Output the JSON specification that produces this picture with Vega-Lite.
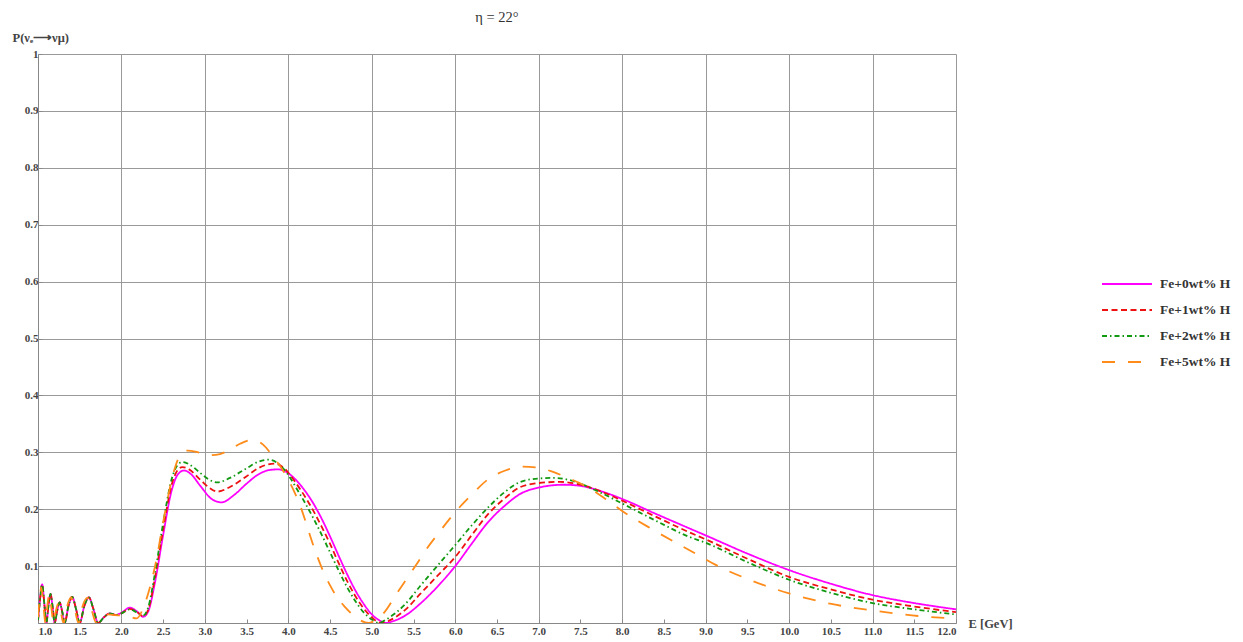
{
  "$schema": "https://vega.github.io/schema/vega-lite/v6.json",
  "width": 918,
  "height": 569,
  "autosize": "none",
  "padding": {"left": 38, "top": 54, "right": 287, "bottom": 19},
  "background": "white",
  "config": {"view": {"stroke": null}, "font": "Liberation Serif"},
  "title": {"text": "η = 22°", "fontSize": 14.5, "font": "Liberation Serif", "fontWeight": "normal", "color": "#333", "anchor": "middle", "frame": "group", "offset": 6},
  "data": {"values": [
    {"s":"Fe+0wt% H","E":1.00,"P":0.005},{"s":"Fe+0wt% H","E":1.02,"P":0.035},{"s":"Fe+0wt% H","E":1.05,"P":0.068},{"s":"Fe+0wt% H","E":1.075,"P":0.035},{"s":"Fe+0wt% H","E":1.10,"P":0.0},{"s":"Fe+0wt% H","E":1.125,"P":0.03},{"s":"Fe+0wt% H","E":1.15,"P":0.051},{"s":"Fe+0wt% H","E":1.175,"P":0.028},{"s":"Fe+0wt% H","E":1.20,"P":0.0},{"s":"Fe+0wt% H","E":1.23,"P":0.022},{"s":"Fe+0wt% H","E":1.26,"P":0.036},{"s":"Fe+0wt% H","E":1.29,"P":0.02},{"s":"Fe+0wt% H","E":1.32,"P":0.0},{"s":"Fe+0wt% H","E":1.365,"P":0.03},{"s":"Fe+0wt% H","E":1.41,"P":0.046},{"s":"Fe+0wt% H","E":1.455,"P":0.025},{"s":"Fe+0wt% H","E":1.50,"P":0.0},{"s":"Fe+0wt% H","E":1.555,"P":0.03},{"s":"Fe+0wt% H","E":1.61,"P":0.045},{"s":"Fe+0wt% H","E":1.665,"P":0.024},{"s":"Fe+0wt% H","E":1.72,"P":0.0},{"s":"Fe+0wt% H","E":1.79,"P":0.01},{"s":"Fe+0wt% H","E":1.86,"P":0.017},{"s":"Fe+0wt% H","E":1.93,"P":0.014},{"s":"Fe+0wt% H","E":2.00,"P":0.018},{"s":"Fe+0wt% H","E":2.10,"P":0.027},{"s":"Fe+0wt% H","E":2.18,"P":0.021},{"s":"Fe+0wt% H","E":2.26,"P":0.011},{"s":"Fe+0wt% H","E":2.32,"P":0.02},{"s":"Fe+0wt% H","E":2.40,"P":0.07},{"s":"Fe+0wt% H","E":2.50,"P":0.155},{"s":"Fe+0wt% H","E":2.60,"P":0.232},{"s":"Fe+0wt% H","E":2.68,"P":0.262},{"s":"Fe+0wt% H","E":2.75,"P":0.268},{"s":"Fe+0wt% H","E":2.83,"P":0.262},{"s":"Fe+0wt% H","E":2.95,"P":0.240},{"s":"Fe+0wt% H","E":3.08,"P":0.218},{"s":"Fe+0wt% H","E":3.20,"P":0.212},{"s":"Fe+0wt% H","E":3.35,"P":0.225},{"s":"Fe+0wt% H","E":3.50,"P":0.245},{"s":"Fe+0wt% H","E":3.65,"P":0.262},{"s":"Fe+0wt% H","E":3.78,"P":0.269},{"s":"Fe+0wt% H","E":3.88,"P":0.270},{"s":"Fe+0wt% H","E":4.00,"P":0.263},{"s":"Fe+0wt% H","E":4.10,"P":0.250},{"s":"Fe+0wt% H","E":4.20,"P":0.232},{"s":"Fe+0wt% H","E":4.30,"P":0.210},{"s":"Fe+0wt% H","E":4.40,"P":0.183},{"s":"Fe+0wt% H","E":4.50,"P":0.152},{"s":"Fe+0wt% H","E":4.60,"P":0.119},{"s":"Fe+0wt% H","E":4.70,"P":0.087},{"s":"Fe+0wt% H","E":4.80,"P":0.058},{"s":"Fe+0wt% H","E":4.90,"P":0.034},{"s":"Fe+0wt% H","E":5.00,"P":0.015},{"s":"Fe+0wt% H","E":5.10,"P":0.004},{"s":"Fe+0wt% H","E":5.17,"P":0.0},{"s":"Fe+0wt% H","E":5.25,"P":0.003},{"s":"Fe+0wt% H","E":5.40,"P":0.013},{"s":"Fe+0wt% H","E":5.58,"P":0.034},{"s":"Fe+0wt% H","E":5.80,"P":0.066},{"s":"Fe+0wt% H","E":6.00,"P":0.100},{"s":"Fe+0wt% H","E":6.20,"P":0.140},{"s":"Fe+0wt% H","E":6.38,"P":0.175},{"s":"Fe+0wt% H","E":6.60,"P":0.207},{"s":"Fe+0wt% H","E":6.78,"P":0.227},{"s":"Fe+0wt% H","E":7.00,"P":0.238},{"s":"Fe+0wt% H","E":7.30,"P":0.243},{"s":"Fe+0wt% H","E":7.50,"P":0.241},{"s":"Fe+0wt% H","E":7.80,"P":0.229},{"s":"Fe+0wt% H","E":8.00,"P":0.218},{"s":"Fe+0wt% H","E":8.40,"P":0.192},{"s":"Fe+0wt% H","E":8.81,"P":0.166},{"s":"Fe+0wt% H","E":9.00,"P":0.154},{"s":"Fe+0wt% H","E":9.50,"P":0.122},{"s":"Fe+0wt% H","E":10.0,"P":0.093},{"s":"Fe+0wt% H","E":10.5,"P":0.069},{"s":"Fe+0wt% H","E":11.0,"P":0.049},{"s":"Fe+0wt% H","E":11.5,"P":0.035},{"s":"Fe+0wt% H","E":12.0,"P":0.024},

    {"s":"Fe+1wt% H","E":1.00,"P":0.005},{"s":"Fe+1wt% H","E":1.02,"P":0.035},{"s":"Fe+1wt% H","E":1.05,"P":0.068},{"s":"Fe+1wt% H","E":1.075,"P":0.035},{"s":"Fe+1wt% H","E":1.10,"P":0.0},{"s":"Fe+1wt% H","E":1.125,"P":0.03},{"s":"Fe+1wt% H","E":1.15,"P":0.051},{"s":"Fe+1wt% H","E":1.175,"P":0.028},{"s":"Fe+1wt% H","E":1.20,"P":0.0},{"s":"Fe+1wt% H","E":1.23,"P":0.022},{"s":"Fe+1wt% H","E":1.26,"P":0.036},{"s":"Fe+1wt% H","E":1.29,"P":0.02},{"s":"Fe+1wt% H","E":1.32,"P":0.0},{"s":"Fe+1wt% H","E":1.365,"P":0.03},{"s":"Fe+1wt% H","E":1.41,"P":0.046},{"s":"Fe+1wt% H","E":1.455,"P":0.025},{"s":"Fe+1wt% H","E":1.50,"P":0.0},{"s":"Fe+1wt% H","E":1.555,"P":0.03},{"s":"Fe+1wt% H","E":1.61,"P":0.045},{"s":"Fe+1wt% H","E":1.665,"P":0.024},{"s":"Fe+1wt% H","E":1.72,"P":0.0},{"s":"Fe+1wt% H","E":1.79,"P":0.01},{"s":"Fe+1wt% H","E":1.86,"P":0.017},{"s":"Fe+1wt% H","E":1.93,"P":0.014},{"s":"Fe+1wt% H","E":2.00,"P":0.017},{"s":"Fe+1wt% H","E":2.10,"P":0.025},{"s":"Fe+1wt% H","E":2.18,"P":0.02},{"s":"Fe+1wt% H","E":2.26,"P":0.012},{"s":"Fe+1wt% H","E":2.32,"P":0.023},{"s":"Fe+1wt% H","E":2.40,"P":0.078},{"s":"Fe+1wt% H","E":2.50,"P":0.165},{"s":"Fe+1wt% H","E":2.60,"P":0.242},{"s":"Fe+1wt% H","E":2.67,"P":0.268},{"s":"Fe+1wt% H","E":2.73,"P":0.274},{"s":"Fe+1wt% H","E":2.81,"P":0.270},{"s":"Fe+1wt% H","E":2.95,"P":0.251},{"s":"Fe+1wt% H","E":3.05,"P":0.238},{"s":"Fe+1wt% H","E":3.15,"P":0.231},{"s":"Fe+1wt% H","E":3.30,"P":0.239},{"s":"Fe+1wt% H","E":3.50,"P":0.258},{"s":"Fe+1wt% H","E":3.65,"P":0.273},{"s":"Fe+1wt% H","E":3.83,"P":0.280},{"s":"Fe+1wt% H","E":3.95,"P":0.272},{"s":"Fe+1wt% H","E":4.00,"P":0.264},{"s":"Fe+1wt% H","E":4.10,"P":0.244},{"s":"Fe+1wt% H","E":4.20,"P":0.222},{"s":"Fe+1wt% H","E":4.30,"P":0.197},{"s":"Fe+1wt% H","E":4.40,"P":0.169},{"s":"Fe+1wt% H","E":4.50,"P":0.139},{"s":"Fe+1wt% H","E":4.60,"P":0.106},{"s":"Fe+1wt% H","E":4.70,"P":0.075},{"s":"Fe+1wt% H","E":4.80,"P":0.048},{"s":"Fe+1wt% H","E":4.90,"P":0.026},{"s":"Fe+1wt% H","E":5.00,"P":0.010},{"s":"Fe+1wt% H","E":5.07,"P":0.002},{"s":"Fe+1wt% H","E":5.13,"P":0.0},{"s":"Fe+1wt% H","E":5.22,"P":0.005},{"s":"Fe+1wt% H","E":5.40,"P":0.023},{"s":"Fe+1wt% H","E":5.58,"P":0.051},{"s":"Fe+1wt% H","E":5.80,"P":0.085},{"s":"Fe+1wt% H","E":6.00,"P":0.116},{"s":"Fe+1wt% H","E":6.20,"P":0.155},{"s":"Fe+1wt% H","E":6.38,"P":0.189},{"s":"Fe+1wt% H","E":6.60,"P":0.220},{"s":"Fe+1wt% H","E":6.78,"P":0.239},{"s":"Fe+1wt% H","E":7.00,"P":0.246},{"s":"Fe+1wt% H","E":7.26,"P":0.248},{"s":"Fe+1wt% H","E":7.50,"P":0.243},{"s":"Fe+1wt% H","E":7.80,"P":0.228},{"s":"Fe+1wt% H","E":8.00,"P":0.215},{"s":"Fe+1wt% H","E":8.40,"P":0.187},{"s":"Fe+1wt% H","E":8.81,"P":0.159},{"s":"Fe+1wt% H","E":9.00,"P":0.147},{"s":"Fe+1wt% H","E":9.50,"P":0.113},{"s":"Fe+1wt% H","E":10.0,"P":0.081},{"s":"Fe+1wt% H","E":10.5,"P":0.059},{"s":"Fe+1wt% H","E":11.0,"P":0.041},{"s":"Fe+1wt% H","E":11.5,"P":0.029},{"s":"Fe+1wt% H","E":12.0,"P":0.019},

    {"s":"Fe+2wt% H","E":1.00,"P":0.005},{"s":"Fe+2wt% H","E":1.02,"P":0.035},{"s":"Fe+2wt% H","E":1.05,"P":0.067},{"s":"Fe+2wt% H","E":1.075,"P":0.035},{"s":"Fe+2wt% H","E":1.10,"P":0.0},{"s":"Fe+2wt% H","E":1.125,"P":0.03},{"s":"Fe+2wt% H","E":1.15,"P":0.051},{"s":"Fe+2wt% H","E":1.175,"P":0.028},{"s":"Fe+2wt% H","E":1.20,"P":0.0},{"s":"Fe+2wt% H","E":1.23,"P":0.022},{"s":"Fe+2wt% H","E":1.26,"P":0.036},{"s":"Fe+2wt% H","E":1.29,"P":0.02},{"s":"Fe+2wt% H","E":1.32,"P":0.0},{"s":"Fe+2wt% H","E":1.365,"P":0.03},{"s":"Fe+2wt% H","E":1.41,"P":0.046},{"s":"Fe+2wt% H","E":1.455,"P":0.025},{"s":"Fe+2wt% H","E":1.50,"P":0.0},{"s":"Fe+2wt% H","E":1.555,"P":0.03},{"s":"Fe+2wt% H","E":1.61,"P":0.045},{"s":"Fe+2wt% H","E":1.665,"P":0.024},{"s":"Fe+2wt% H","E":1.72,"P":0.0},{"s":"Fe+2wt% H","E":1.79,"P":0.01},{"s":"Fe+2wt% H","E":1.86,"P":0.017},{"s":"Fe+2wt% H","E":1.93,"P":0.014},{"s":"Fe+2wt% H","E":2.00,"P":0.017},{"s":"Fe+2wt% H","E":2.10,"P":0.024},{"s":"Fe+2wt% H","E":2.18,"P":0.019},{"s":"Fe+2wt% H","E":2.26,"P":0.013},{"s":"Fe+2wt% H","E":2.32,"P":0.027},{"s":"Fe+2wt% H","E":2.40,"P":0.086},{"s":"Fe+2wt% H","E":2.50,"P":0.176},{"s":"Fe+2wt% H","E":2.60,"P":0.252},{"s":"Fe+2wt% H","E":2.67,"P":0.277},{"s":"Fe+2wt% H","E":2.73,"P":0.283},{"s":"Fe+2wt% H","E":2.81,"P":0.279},{"s":"Fe+2wt% H","E":2.95,"P":0.263},{"s":"Fe+2wt% H","E":3.05,"P":0.252},{"s":"Fe+2wt% H","E":3.15,"P":0.247},{"s":"Fe+2wt% H","E":3.30,"P":0.255},{"s":"Fe+2wt% H","E":3.50,"P":0.272},{"s":"Fe+2wt% H","E":3.65,"P":0.284},{"s":"Fe+2wt% H","E":3.76,"P":0.287},{"s":"Fe+2wt% H","E":3.88,"P":0.280},{"s":"Fe+2wt% H","E":4.00,"P":0.260},{"s":"Fe+2wt% H","E":4.10,"P":0.236},{"s":"Fe+2wt% H","E":4.20,"P":0.211},{"s":"Fe+2wt% H","E":4.30,"P":0.184},{"s":"Fe+2wt% H","E":4.40,"P":0.155},{"s":"Fe+2wt% H","E":4.50,"P":0.124},{"s":"Fe+2wt% H","E":4.60,"P":0.093},{"s":"Fe+2wt% H","E":4.70,"P":0.064},{"s":"Fe+2wt% H","E":4.80,"P":0.039},{"s":"Fe+2wt% H","E":4.90,"P":0.019},{"s":"Fe+2wt% H","E":5.00,"P":0.006},{"s":"Fe+2wt% H","E":5.08,"P":0.0},{"s":"Fe+2wt% H","E":5.18,"P":0.007},{"s":"Fe+2wt% H","E":5.40,"P":0.033},{"s":"Fe+2wt% H","E":5.58,"P":0.065},{"s":"Fe+2wt% H","E":5.80,"P":0.103},{"s":"Fe+2wt% H","E":6.00,"P":0.137},{"s":"Fe+2wt% H","E":6.20,"P":0.172},{"s":"Fe+2wt% H","E":6.38,"P":0.201},{"s":"Fe+2wt% H","E":6.60,"P":0.231},{"s":"Fe+2wt% H","E":6.78,"P":0.248},{"s":"Fe+2wt% H","E":7.00,"P":0.254},{"s":"Fe+2wt% H","E":7.18,"P":0.255},{"s":"Fe+2wt% H","E":7.40,"P":0.250},{"s":"Fe+2wt% H","E":7.70,"P":0.232},{"s":"Fe+2wt% H","E":8.00,"P":0.210},{"s":"Fe+2wt% H","E":8.40,"P":0.180},{"s":"Fe+2wt% H","E":8.81,"P":0.151},{"s":"Fe+2wt% H","E":9.00,"P":0.141},{"s":"Fe+2wt% H","E":9.50,"P":0.107},{"s":"Fe+2wt% H","E":10.0,"P":0.076},{"s":"Fe+2wt% H","E":10.5,"P":0.053},{"s":"Fe+2wt% H","E":11.0,"P":0.035},{"s":"Fe+2wt% H","E":11.5,"P":0.024},{"s":"Fe+2wt% H","E":12.0,"P":0.015},

    {"s":"Fe+5wt% H","E":1.00,"P":0.01},{"s":"Fe+5wt% H","E":1.02,"P":0.045},{"s":"Fe+5wt% H","E":1.04,"P":0.062},{"s":"Fe+5wt% H","E":1.065,"P":0.03},{"s":"Fe+5wt% H","E":1.09,"P":0.0},{"s":"Fe+5wt% H","E":1.11,"P":0.028},{"s":"Fe+5wt% H","E":1.135,"P":0.05},{"s":"Fe+5wt% H","E":1.16,"P":0.027},{"s":"Fe+5wt% H","E":1.185,"P":0.0},{"s":"Fe+5wt% H","E":1.215,"P":0.022},{"s":"Fe+5wt% H","E":1.245,"P":0.035},{"s":"Fe+5wt% H","E":1.275,"P":0.018},{"s":"Fe+5wt% H","E":1.305,"P":0.0},{"s":"Fe+5wt% H","E":1.35,"P":0.03},{"s":"Fe+5wt% H","E":1.395,"P":0.045},{"s":"Fe+5wt% H","E":1.44,"P":0.024},{"s":"Fe+5wt% H","E":1.485,"P":0.0},{"s":"Fe+5wt% H","E":1.535,"P":0.03},{"s":"Fe+5wt% H","E":1.59,"P":0.044},{"s":"Fe+5wt% H","E":1.64,"P":0.024},{"s":"Fe+5wt% H","E":1.70,"P":0.0},{"s":"Fe+5wt% H","E":1.77,"P":0.009},{"s":"Fe+5wt% H","E":1.84,"P":0.015},{"s":"Fe+5wt% H","E":1.92,"P":0.014},{"s":"Fe+5wt% H","E":2.00,"P":0.013},{"s":"Fe+5wt% H","E":2.08,"P":0.012},{"s":"Fe+5wt% H","E":2.18,"P":0.008},{"s":"Fe+5wt% H","E":2.28,"P":0.034},{"s":"Fe+5wt% H","E":2.40,"P":0.098},{"s":"Fe+5wt% H","E":2.52,"P":0.193},{"s":"Fe+5wt% H","E":2.62,"P":0.262},{"s":"Fe+5wt% H","E":2.70,"P":0.294},{"s":"Fe+5wt% H","E":2.79,"P":0.303},{"s":"Fe+5wt% H","E":2.92,"P":0.300},{"s":"Fe+5wt% H","E":3.05,"P":0.295},{"s":"Fe+5wt% H","E":3.18,"P":0.297},{"s":"Fe+5wt% H","E":3.30,"P":0.305},{"s":"Fe+5wt% H","E":3.42,"P":0.315},{"s":"Fe+5wt% H","E":3.55,"P":0.321},{"s":"Fe+5wt% H","E":3.62,"P":0.320},{"s":"Fe+5wt% H","E":3.70,"P":0.313},{"s":"Fe+5wt% H","E":3.82,"P":0.292},{"s":"Fe+5wt% H","E":3.90,"P":0.276},{"s":"Fe+5wt% H","E":3.98,"P":0.257},{"s":"Fe+5wt% H","E":4.08,"P":0.228},{"s":"Fe+5wt% H","E":4.15,"P":0.203},{"s":"Fe+5wt% H","E":4.22,"P":0.172},{"s":"Fe+5wt% H","E":4.30,"P":0.136},{"s":"Fe+5wt% H","E":4.40,"P":0.097},{"s":"Fe+5wt% H","E":4.50,"P":0.066},{"s":"Fe+5wt% H","E":4.58,"P":0.046},{"s":"Fe+5wt% H","E":4.68,"P":0.028},{"s":"Fe+5wt% H","E":4.76,"P":0.016},{"s":"Fe+5wt% H","E":4.86,"P":0.005},{"s":"Fe+5wt% H","E":4.96,"P":0.0},{"s":"Fe+5wt% H","E":5.05,"P":0.006},{"s":"Fe+5wt% H","E":5.14,"P":0.017},{"s":"Fe+5wt% H","E":5.30,"P":0.052},{"s":"Fe+5wt% H","E":5.42,"P":0.078},{"s":"Fe+5wt% H","E":5.54,"P":0.104},{"s":"Fe+5wt% H","E":5.66,"P":0.131},{"s":"Fe+5wt% H","E":5.80,"P":0.158},{"s":"Fe+5wt% H","E":6.00,"P":0.195},{"s":"Fe+5wt% H","E":6.20,"P":0.226},{"s":"Fe+5wt% H","E":6.38,"P":0.251},{"s":"Fe+5wt% H","E":6.60,"P":0.268},{"s":"Fe+5wt% H","E":6.80,"P":0.275},{"s":"Fe+5wt% H","E":7.00,"P":0.273},{"s":"Fe+5wt% H","E":7.18,"P":0.265},{"s":"Fe+5wt% H","E":7.38,"P":0.253},{"s":"Fe+5wt% H","E":7.58,"P":0.239},{"s":"Fe+5wt% H","E":7.80,"P":0.218},{"s":"Fe+5wt% H","E":8.00,"P":0.197},{"s":"Fe+5wt% H","E":8.38,"P":0.163},{"s":"Fe+5wt% H","E":8.94,"P":0.117},{"s":"Fe+5wt% H","E":9.11,"P":0.103},{"s":"Fe+5wt% H","E":9.49,"P":0.078},{"s":"Fe+5wt% H","E":10.0,"P":0.052},{"s":"Fe+5wt% H","E":10.49,"P":0.034},{"s":"Fe+5wt% H","E":11.0,"P":0.022},{"s":"Fe+5wt% H","E":11.57,"P":0.012},{"s":"Fe+5wt% H","E":12.0,"P":0.008}
  ]},
  "mark": {"type": "line", "strokeWidth": 1.8, "interpolate": "monotone", "clip": true},
  "encoding": {
    "x": {"field": "E", "type": "quantitative",
      "scale": {"domain": [1, 12], "nice": false, "zero": false},
      "axis": {"values": [1,1.5,2,2.5,3,3.5,4,4.5,5,5.5,6,6.5,7,7.5,8,8.5,9,9.5,10,10.5,11,11.5,12],
        "format": ".1f", "grid": true, "gridColor": "#999", "gridWidth": 1,
        "gridOpacity": {"condition": {"test": "datum.value % 1 !== 0", "value": 0}, "value": 1},
        "domainColor": "#888", "tickColor": "#888", "tickSize": -4, "labelPadding": 6,
        "labelFont": "Liberation Serif", "labelFontSize": 11, "labelFontWeight": "bold", "labelColor": "#444",
        "title": "E [GeV]", "titleFont": "Liberation Serif", "titleFontSize": 12.5, "titleFontWeight": "bold", "titleColor": "#444",
        "titleX": 930, "titleY": 0, "titleAlign": "left", "titleBaseline": "middle", "titleAnchor": null}},
    "y": {"field": "P", "type": "quantitative",
      "scale": {"domain": [0, 1], "nice": false},
      "axis": {"values": [0.1,0.2,0.3,0.4,0.5,0.6,0.7,0.8,0.9,1.0],
        "labelExpr": "datum.value == 1 ? '1' : format(datum.value, '.1f')",
        "grid": true, "gridColor": "#999", "gridWidth": 1,
        "domainColor": "#888", "tickColor": "#888", "tickSize": -4, "labelPadding": 4,
        "labelFont": "Liberation Serif", "labelFontSize": 11, "labelFontWeight": "bold", "labelColor": "#444",
        "title": "P(νₑ⟶νμ)", "titleFont": "Liberation Serif", "titleFontSize": 12.5, "titleFontWeight": "bold", "titleColor": "#444",
        "titleAngle": 0, "titleX": -26, "titleY": -17, "titleAlign": "left", "titleBaseline": "middle"}},
    "color": {"field": "s", "type": "nominal",
      "scale": {"domain": ["Fe+0wt% H","Fe+1wt% H","Fe+2wt% H","Fe+5wt% H"], "range": ["#ff00ff","#ee1111","#119911","#ff8c1a"]},
      "legend": {"orient": "none", "legendX": 1078, "legendY": 219, "title": null,
        "symbolType": "M-2.5,0H2.5", "symbolSize": 400, "symbolStrokeWidth": 2, "rowPadding": 8,
        "labelFont": "Liberation Serif", "labelFontSize": 13.5, "labelFontWeight": "bold", "labelColor": "#333", "labelOffset": 22}},
    "strokeDash": {"field": "s", "type": "nominal",
      "scale": {"domain": ["Fe+0wt% H","Fe+1wt% H","Fe+2wt% H","Fe+5wt% H"], "range": [[1,0],[6,3.5],[5,3,1.5,3],[13,13]]},
      "legend": {"orient": "none", "legendX": 1078, "legendY": 219, "title": null,
        "symbolType": "M-2.5,0H2.5", "symbolSize": 400, "symbolStrokeWidth": 2, "rowPadding": 8,
        "labelFont": "Liberation Serif", "labelFontSize": 13.5, "labelFontWeight": "bold", "labelColor": "#333", "labelOffset": 22}}
  }
}
